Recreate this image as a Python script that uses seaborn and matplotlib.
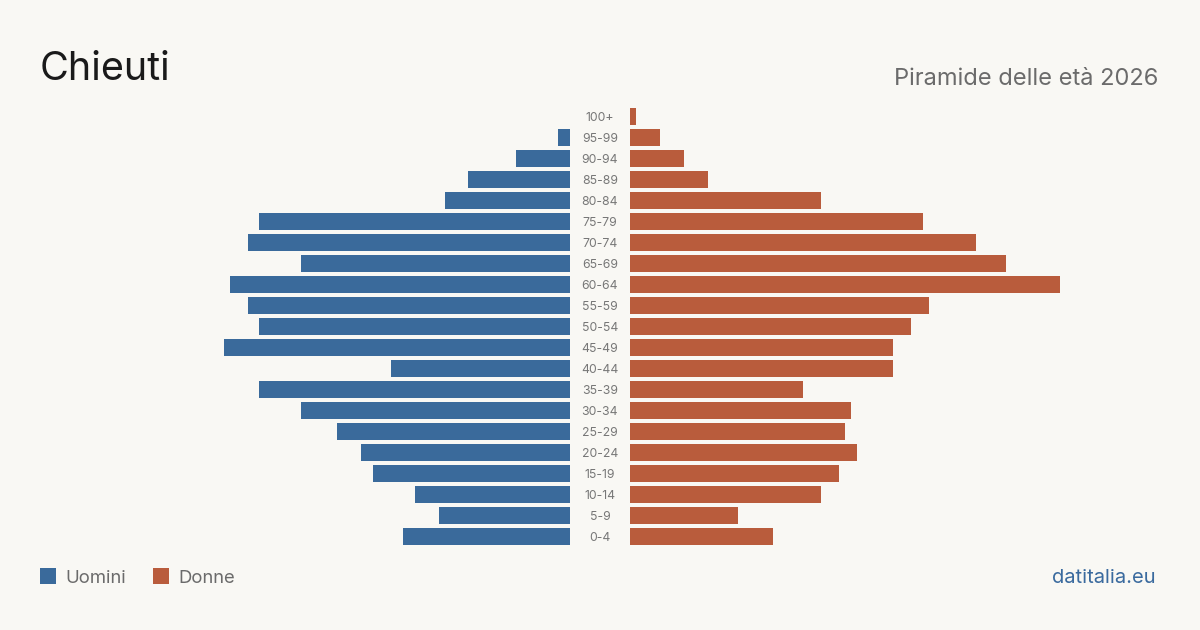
import matplotlib
matplotlib.use("Agg")
import matplotlib.pyplot as plt
import matplotlib.transforms as mtransforms
from matplotlib.patches import Rectangle
import seaborn as sns
import pandas as pd

age_groups = ['100+', '95-99', '90-94', '85-89', '80-84', '75-79', '70-74', '65-69',
              '60-64', '55-59', '50-54', '45-49', '40-44', '35-39', '30-34', '25-29',
              '20-24', '15-19', '10-14', '5-9', '0-4']
men = [0, 2, 9, 17, 21, 52, 54, 45, 57, 54, 52, 58, 30, 52, 45, 39, 35, 33, 26, 22, 28]
women = [1, 5, 9, 13, 32, 49, 58, 63, 72, 50, 47, 44, 44, 29, 37, 36, 38, 35, 32, 18, 24]

title = "Chieuti"
subtitle = "Piramide delle età 2026"
legend_labels = ["Uomini", "Donne"]
source = "datitalia.eu"

BG = "#f9f8f4"
BLUE = "#3a6a9b"
ORANGE = "#b95c3c"

sns.set_theme(style="white")
plt.rcParams['font.family'] = ['Inter', 'DejaVu Sans']

df = pd.DataFrame({"age": age_groups, "men": men, "women": women})

W, H = 1200, 630
fig = plt.figure(figsize=(12, 6.3), dpi=100, facecolor=BG)

xmax = 72
row_h = 21
n = len(age_groups)
top_px = 116.5 - row_h / 2
bot_px = top_px + n * row_h
ax_bottom = (H - bot_px) / H
ax_height = n * row_h / H

axL = fig.add_axes([140 / W, ax_bottom, 430 / W, ax_height])
axR = fig.add_axes([630 / W, ax_bottom, 430 / W, ax_height])

sns.barplot(data=df, x="men", y="age", order=age_groups, orient="h", color=BLUE,
            saturation=1, width=0.8, linewidth=0, ax=axL)
sns.barplot(data=df, x="women", y="age", order=age_groups, orient="h", color=ORANGE,
            saturation=1, width=0.8, linewidth=0, ax=axR)

axL.set_xlim(xmax, 0)
axR.set_xlim(0, xmax)
for ax in (axL, axR):
    ax.set_ylim(n - 0.5, -0.5)
    ax.set_facecolor("none")
    ax.set_xlabel("")
    ax.set_ylabel("")
    ax.set_xticks([])
    ax.set_yticks([])
    for s in ax.spines.values():
        s.set_visible(False)

trans = mtransforms.blended_transform_factory(fig.transFigure, axL.transData)
for i, a in enumerate(age_groups):
    fig.text(600 / W, i, a, transform=trans, ha="center", va="center_baseline",
             fontsize=8.8, color="#777777")

fig.text(40 / W, 1 - 80 / H, title, ha="left", va="baseline", fontsize=28.5, color="#1a1a1a")
fig.text(1158 / W, 1 - 85 / H, subtitle, ha="right", va="baseline", fontsize=17, color="#6b6b6b")

# legend
for x0, col, lab in [(40, BLUE, legend_labels[0]), (153, ORANGE, legend_labels[1])]:
    fig.add_artist(Rectangle((x0 / W, 1 - 584 / H), 16 / W, 16 / H,
                             transform=fig.transFigure, facecolor=col, edgecolor="none"))
    fig.text((x0 + 25) / W, 1 - 583 / H, lab, ha="left", va="baseline",
             fontsize=13.3, color="#6b6b6b")

fig.text(1156 / W, 1 - 583 / H, source, ha="right", va="baseline", fontsize=14.5, color="#3a6a9e")

fig.savefig("out.png", dpi=100, facecolor=BG)
